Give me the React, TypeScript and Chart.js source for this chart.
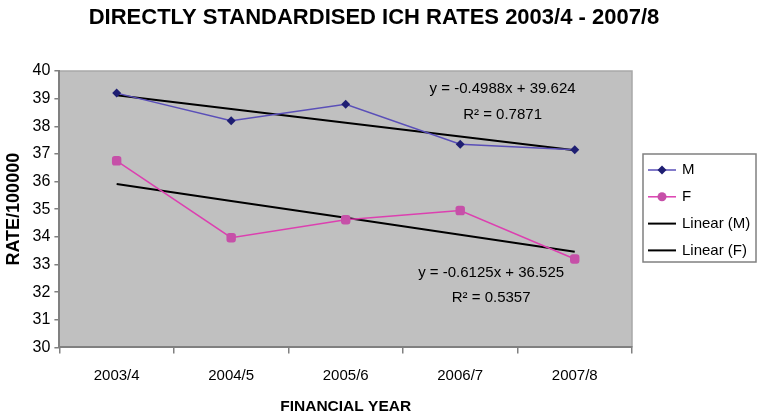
import { useEffect, useRef } from "react";
import { Chart, ChartConfiguration, Plugin, registerables } from "chart.js";

Chart.register(...registerables);

const years = ["2003/4", "2004/5", "2005/6", "2006/7", "2007/8"];
const maleRates = [39.2, 38.2, 38.8, 37.35, 37.15];
const femaleRates = [36.75, 33.97, 34.62, 34.95, 33.2];
// trend line values, from the equations shown on the chart
const maleTrend = [39.125, 38.627, 38.128, 37.629, 37.13];
const femaleTrend = [35.913, 35.3, 34.688, 34.075, 33.463];
const maleEquation = ["y = -0.4988x + 39.624", "R² = 0.7871"];
const femaleEquation = ["y = -0.6125x + 36.525", "R² = 0.5357"];
const chartTitle = "DIRECTLY STANDARDISED ICH RATES 2003/4 - 2007/8";

const FONT = "'Liberation Sans', Arial, sans-serif";

// grey plot area like the old Excel charts
const plotBackground: Plugin = {
  id: "plotBackground",
  beforeDraw(chart) {
    const { ctx, chartArea: a } = chart;
    ctx.save();
    ctx.fillStyle = "#c0c0c0";
    ctx.fillRect(a.left, a.top, a.right - a.left, a.bottom - a.top);
    ctx.strokeStyle = "#a8a8a8";
    ctx.lineWidth = 1.5;
    ctx.beginPath();
    ctx.moveTo(a.left, a.top);
    ctx.lineTo(a.right, a.top);
    ctx.lineTo(a.right, a.bottom);
    ctx.stroke();
    ctx.restore();
  },
};

// title centred on the whole picture, not on the plot + legend gap
const pageTitle: Plugin = {
  id: "pageTitle",
  afterDraw(chart) {
    const { ctx } = chart;
    ctx.save();
    ctx.font = `bold 22px ${FONT}`;
    ctx.fillStyle = "#000";
    ctx.textAlign = "center";
    ctx.textBaseline = "middle";
    ctx.fillText(chartTitle, 374, 18);
    ctx.restore();
  },
};

// trend equations
const equations: Plugin = {
  id: "equations",
  afterDatasetsDraw(chart) {
    const { ctx } = chart;
    const x = chart.scales.x;
    const y = chart.scales.y;
    ctx.save();
    ctx.font = `15px ${FONT}`;
    ctx.fillStyle = "#000";
    ctx.textAlign = "center";
    ctx.textBaseline = "middle";
    const mx = x.getPixelForValue(3.37);
    ctx.fillText(maleEquation[0], mx, y.getPixelForValue(39.35));
    ctx.fillText(maleEquation[1], mx, y.getPixelForValue(38.41));
    const fx = x.getPixelForValue(3.27);
    ctx.fillText(femaleEquation[0], fx, y.getPixelForValue(32.68));
    ctx.fillText(femaleEquation[1], fx, y.getPixelForValue(31.78));
    ctx.restore();
  },
};

// boxed legend on the right
const boxLegend: Plugin = {
  id: "boxLegend",
  afterDraw(chart) {
    const { ctx } = chart;
    const left = 643;
    const top = 154;
    const w = 113;
    const h = 108;
    ctx.save();
    ctx.fillStyle = "#fff";
    ctx.fillRect(left, top, w, h);
    ctx.strokeStyle = "#808080";
    ctx.lineWidth = 1.5;
    ctx.strokeRect(left, top, w, h);
    ctx.font = `15px ${FONT}`;
    ctx.textBaseline = "middle";
    chart.data.datasets.forEach((ds: any, i: number) => {
      const cy = top + 16 + i * 26.8;
      ctx.strokeStyle = ds.borderColor;
      ctx.lineWidth = ds.borderWidth;
      ctx.beginPath();
      ctx.moveTo(left + 5, cy);
      ctx.lineTo(left + 33, cy);
      ctx.stroke();
      if (ds.pointRadius > 0) {
        const cx = left + 19;
        ctx.fillStyle = ds.pointBackgroundColor;
        ctx.beginPath();
        if (ds.pointStyle === "rectRot") {
          const r = ds.pointRadius;
          ctx.moveTo(cx, cy - r);
          ctx.lineTo(cx + r, cy);
          ctx.lineTo(cx, cy + r);
          ctx.lineTo(cx - r, cy);
        } else {
          ctx.arc(cx, cy, 4.5, 0, Math.PI * 2);
        }
        ctx.fill();
      }
      ctx.fillStyle = "#000";
      ctx.fillText(ds.label, left + 39, cy);
    });
    ctx.restore();
  },
};

export default function App() {
  const canvasRef = useRef<HTMLCanvasElement>(null);
  const chartRef = useRef<Chart | null>(null);

  useEffect(() => {
    document.body.style.margin = "0";
    if (!canvasRef.current) return;
    if (chartRef.current) chartRef.current.destroy();

    const config: ChartConfiguration = {
      type: "line",
      data: {
        labels: years,
        datasets: [
          {
            label: "M",
            data: maleRates,
            borderColor: "#5a4fb8",
            borderWidth: 1.5,
            pointStyle: "rectRot",
            pointRadius: 4.5,
            pointBackgroundColor: "#1e1e72",
            pointBorderColor: "#1e1e72",
            pointBorderWidth: 0,
          },
          {
            label: "F",
            data: femaleRates,
            borderColor: "#dc40b0",
            borderWidth: 1.5,
            pointStyle: "rectRounded",
            pointRadius: 5.5,
            pointBackgroundColor: "#c650a8",
            pointBorderColor: "#c650a8",
            pointBorderWidth: 0,
          },
          {
            label: "Linear (M)",
            data: maleTrend,
            borderColor: "#000",
            borderWidth: 2,
            pointRadius: 0,
          },
          {
            label: "Linear (F)",
            data: femaleTrend,
            borderColor: "#000",
            borderWidth: 2,
            pointRadius: 0,
          },
        ],
      },
      options: {
        animation: false,
        responsive: false,
        layout: { padding: { left: 3, right: 126, top: 71, bottom: 2 } },
        scales: {
          x: {
            offset: true,
            grid: {
              offset: true,
              drawOnChartArea: false,
              tickLength: 6,
              color: "#808080",
              lineWidth: 1.5,
            },
            border: { color: "#808080", width: 2 },
            ticks: { color: "#000", font: { family: FONT, size: 15 }, padding: 13 },
            title: {
              display: true,
              text: "FINANCIAL YEAR",
              color: "#000",
              font: { family: FONT, size: 15.5, weight: "bold" },
              padding: { top: 0, bottom: 0 },
            },
          },
          y: {
            min: 30,
            max: 40,
            grid: {
              drawOnChartArea: false,
              tickLength: 5,
              color: "#808080",
              lineWidth: 1.5,
            },
            border: { color: "#808080", width: 2 },
            ticks: { stepSize: 1, color: "#000", font: { family: FONT, size: 16 }, padding: 4 },
            title: {
              display: true,
              text: "RATE/100000",
              color: "#000",
              font: { family: FONT, size: 18, weight: "bold" },
              padding: { top: 0, bottom: 4 },
            },
          },
        },
        plugins: {
          legend: { display: false },
          tooltip: { enabled: false },
          title: { display: false },
        },
      },
      plugins: [plotBackground, equations, boxLegend, pageTitle],
    };

    chartRef.current = new Chart(canvasRef.current, config);
    return () => {
      chartRef.current?.destroy();
      chartRef.current = null;
    };
  }, []);

  return <canvas ref={canvasRef} width={758} height={418} />;
}
